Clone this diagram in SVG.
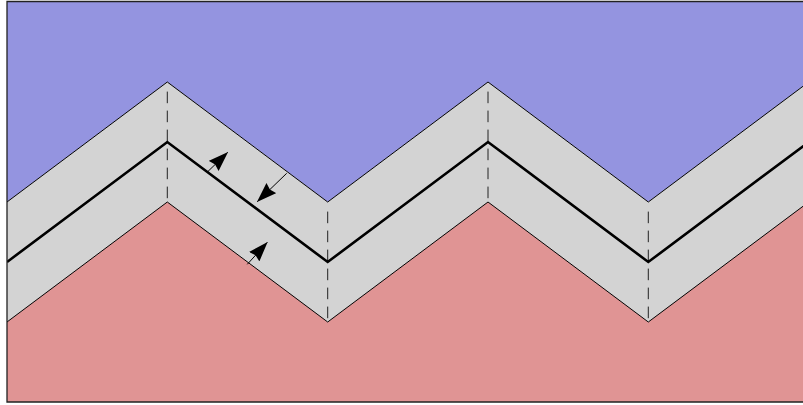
<svg xmlns="http://www.w3.org/2000/svg" width="803" height="405" viewBox="0 0 803 405">
<style>
.edge{fill:none;stroke:#000;stroke-width:1;stroke-linejoin:miter}
.mid{fill:none;stroke:#000;stroke-width:2.6;stroke-linejoin:miter}
.dash{stroke:#222;stroke-width:1;stroke-dasharray:11.6 7.4}
.arr{stroke:#000;stroke-width:1;fill:none;marker-end:url(#ah)}
</style>
<defs>
<marker id="ah" viewBox="0 0 20 14" refX="19.5" refY="7" markerWidth="20" markerHeight="14" markerUnits="userSpaceOnUse" orient="auto">
<path d="M0,0 L20,7 L0,14 L2,7 Z" fill="#000"/>
</marker>
<clipPath id="frame"><rect x="7" y="1.5" width="800" height="400.5"/></clipPath>
</defs>
<g id="regions" clip-path="url(#frame)">
<polygon id="upper" fill="#9494E0" points="7,0 812,0 812,80 808.7,82 648.3,202 488,82 327.7,202 167.3,82 7,202"/>
<polygon id="band" fill="#D3D3D3" points="7,202 167.3,82 327.7,202 488,82 648.3,202 808.7,82 808.7,206 648.3,322 488,202 327.7,322 167.3,202 7,322"/>
<polygon id="lower" fill="#E09494" points="7,322 167.3,202 327.7,322 488,202 648.3,322 808.7,202 812,202 812,405 7,405"/>
</g>
<g id="guides">
<line class="dash" x1="167.3" y1="91.6" x2="167.3" y2="198.3"/>
<line class="dash" x1="327.7" y1="211.6" x2="327.7" y2="318.3"/>
<line class="dash" x1="488" y1="91.6" x2="488" y2="198.3"/>
<line class="dash" x1="648.3" y1="211.6" x2="648.3" y2="318.3"/>
</g>
<g id="lines" clip-path="url(#frame)">
<polyline id="top-line" class="edge" points="7,202 167.3,82 327.7,202 488,82 648.3,202 808.7,82"/>
<polyline id="bottom-line" class="edge" points="7,322 167.3,202 327.7,322 488,202 648.3,322 808.7,202"/>
<polyline id="middle-line" class="mid" points="7,262 167.3,142 327.7,262 488,142 648.3,262 808.7,142"/>
</g>
<g id="connectors">
<line class="arr" x1="207.7" y1="171.7" x2="227.7" y2="152.3"/>
<line class="arr" x1="286.7" y1="173.3" x2="257.3" y2="201.7"/>
<line class="arr" x1="247.3" y1="264.3" x2="267.3" y2="242.3"/>
</g>
<g id="frame-border">
<path d="M807,1.5 H7 V402 H807" fill="none" stroke="#222" stroke-width="1.3"/>
</g>
</svg>
